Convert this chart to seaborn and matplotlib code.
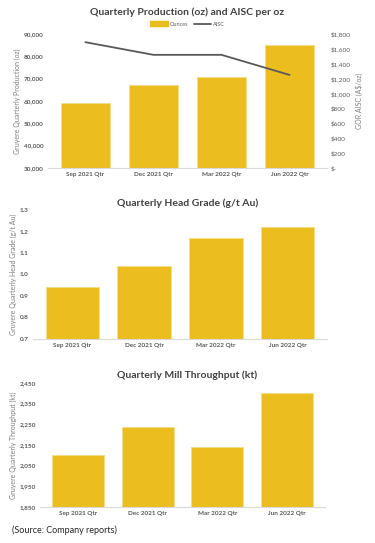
import matplotlib
matplotlib.use("Agg")
import matplotlib.pyplot as plt
import matplotlib.ticker as mticker
import seaborn as sns
import pandas as pd
import numpy as np

quarters = ['Sep 2021 Qtr', 'Dec 2021 Qtr', 'Mar 2022 Qtr', 'Jun 2022 Qtr']
ounces = [59000, 67300, 70800, 85200]
aisc = [1690, 1520, 1520, 1250]
head_grade = [0.94, 1.04, 1.17, 1.22]
throughput = [2100, 2235, 2142, 2402]

gold = '#EBBD1E'
grey_txt = '#404040'
tick_txt = '#595959'

sns.set_theme(style='white')
plt.rcParams['font.family'] = ['Lato', 'DejaVu Sans']

fig = plt.figure(figsize=(3.75, 5.43), dpi=100)
W, H = 375, 543


def axes_px(left, top, right, bottom):
    return fig.add_axes([left / W, 1 - bottom / H, (right - left) / W, (bottom - top) / H])


def style(ax, ylabel, ticks, fmt):
    ax.set_ylim(ticks[0], ticks[-1])
    ax.set_yticks(ticks)
    ax.yaxis.set_major_formatter(mticker.FuncFormatter(fmt))
    ax.set_xlabel('')
    ax.set_ylabel(ylabel, fontsize=5, color='#7f7f7f', labelpad=2)
    ax.tick_params(axis='both', labelsize=4.6, colors=tick_txt, length=0, pad=3)
    for lbl in ax.get_xticklabels() + ax.get_yticklabels():
        lbl.set_fontweight('bold')
    for s in ['top', 'right', 'left']:
        ax.spines[s].set_visible(False)
    ax.spines['bottom'].set_color('#d9d9d9')
    ax.spines['bottom'].set_linewidth(0.8)
    ax.set_xlim(-0.55, 3.55)


# chart 1: production and AISC
df1 = pd.DataFrame({'Quarter': quarters, 'Ounces': ounces, 'AISC': aisc})
ax1 = axes_px(48, 34, 327, 168)
sns.barplot(data=df1, x='Quarter', y='Ounces', color=gold, width=0.73,
            saturation=1, edgecolor='#f5dc8a', linewidth=0.6, ax=ax1)
style(ax1, 'Gruyere Quarterly Production (oz)', np.arange(30000, 90001, 10000),
      lambda v, p: f'{v:,.0f}')
ax1b = ax1.twinx()
sns.lineplot(data=df1, x='Quarter', y='AISC', color='#595959', linewidth=1.3, ax=ax1b)
ax1b.set_ylim(0, 1800)
ax1b.set_yticks(np.arange(0, 1801, 200))
ax1b.yaxis.set_major_formatter(mticker.FuncFormatter(
    lambda v, p: '$-' if v == 0 else f'${v:,.0f}'))
ax1b.set_ylabel('GOR AISC (A$/oz)', fontsize=5, color='#7f7f7f', labelpad=3)
ax1b.tick_params(axis='y', labelsize=4.6, colors=tick_txt, length=0, pad=3)
for s in ax1b.spines.values():
    s.set_visible(False)
ax1b.set_xlim(-0.55, 3.55)
fig.text(0.5, 1 - 12 / H, 'Quarterly Production (oz) and AISC per oz', ha='center',
         va='center', fontsize=7.5, fontweight='bold', color=grey_txt)
handles = [plt.Rectangle((0, 0), 1, 1, color=gold),
           plt.Line2D([0], [0], color='#595959', lw=1.3)]
fig.legend(handles, ['Ounces', 'AISC'], loc='center', bbox_to_anchor=(0.5, 1 - 24 / H),
           ncol=2, fontsize=4, frameon=False, handlelength=3.2, handleheight=0.9,
           columnspacing=1.0, handletextpad=0.3, labelcolor='#595959')

# chart 2: head grade
df2 = pd.DataFrame({'Quarter': quarters, 'Grade': head_grade})
ax2 = axes_px(33, 210, 327, 339)
sns.barplot(data=df2, x='Quarter', y='Grade', color=gold, width=0.75,
            saturation=1, edgecolor='#f5dc8a', linewidth=0.6, ax=ax2)
style(ax2, 'Gruyere Quarterly Head Grade (g/t Au)', np.round(np.arange(0.7, 1.31, 0.1), 1),
      lambda v, p: f'{v:.1f}')
fig.text(0.5, 1 - 203 / H, 'Quarterly Head Grade (g/t Au)', ha='center',
         va='center', fontsize=7.5, fontweight='bold', color=grey_txt)

# chart 3: mill throughput
df3 = pd.DataFrame({'Quarter': quarters, 'Throughput': throughput})
ax3 = axes_px(40, 383, 325, 507)
sns.barplot(data=df3, x='Quarter', y='Throughput', color=gold, width=0.75,
            saturation=1, edgecolor='#f5dc8a', linewidth=0.6, ax=ax3)
style(ax3, 'Gruyere Quarterly Throughput (kt)', np.arange(1850, 2451, 100),
      lambda v, p: f'{v:,.0f}')
fig.text(0.5, 1 - 375 / H, 'Quarterly Mill Throughput (kt)', ha='center',
         va='center', fontsize=7.5, fontweight='bold', color=grey_txt)

fig.text(12 / W, 1 - 530 / H, '(Source: Company reports)', ha='left', va='center',
         fontsize=6.5, color='#262626')

fig.savefig('out.png', dpi=100)
